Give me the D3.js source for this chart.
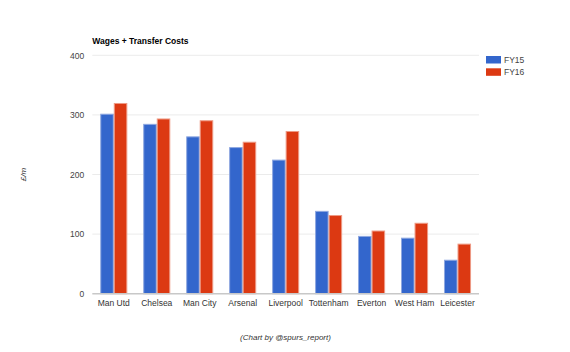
<!DOCTYPE html>
<html>
<head>
<meta charset="utf-8">
<script src="https://cdn.jsdelivr.net/npm/d3@7"></script>
<style>
  html, body { margin: 0; padding: 0; background: #fff; }
  svg { display: block; font-family: Arial, "Liberation Sans", sans-serif; }
</style>
</head>
<body>
<div id="chart"></div>
<script>
// Wages + Transfer Costs, FY15 vs FY16 (£m)
const clubs = ["Man Utd", "Chelsea", "Man City", "Arsenal", "Liverpool", "Tottenham", "Everton", "West Ham", "Leicester"];
const seriesNames = ["FY15", "FY16"];
const fy15 = [302, 285, 264, 246, 225, 139, 97, 94, 57];
const fy16 = [320, 294, 291, 255, 273, 132, 106, 119, 84];
const yTicks = [0, 100, 200, 300, 400];

const colors = { FY15: "#3366cc", FY16: "#dc3912" };
const edge = { FY15: "#8fa8e0", FY16: "#ee9a85" };

const W = 570, H = 352;
const m = { top: 55.3, right: 91, bottom: 58.3, left: 92.3 };
const innerW = W - m.left - m.right, innerH = H - m.top - m.bottom;

const svg = d3.select("#chart").append("svg").attr("width", W).attr("height", H);
const g = svg.append("g").attr("transform", `translate(${m.left},${m.top})`);

const x = d3.scaleBand().domain(clubs).range([0, innerW]).paddingInner(0.37).paddingOuter(0.185);
const x1 = d3.scaleBand().domain(seriesNames).range([0, x.bandwidth()]);
const y = d3.scaleLinear().domain([0, 400]).range([innerH, 0]);

// gridlines
g.append("g")
  .selectAll("line")
  .data(yTicks.filter(t => t > 0))
  .join("line")
  .attr("x1", 0).attr("x2", innerW)
  .attr("y1", d => y(d)).attr("y2", d => y(d))
  .attr("stroke", "#ebebeb").attr("stroke-width", 1);

// y axis labels
const yAxis = g.append("g").call(d3.axisLeft(y).tickValues(yTicks).tickSize(0).tickPadding(8));
yAxis.select(".domain").remove();
yAxis.selectAll("text").attr("fill", "#444").style("font-size", "8.5px");

// bars
const rows = clubs.map((c, i) => ({ club: c, FY15: fy15[i], FY16: fy16[i] }));
const groups = g.append("g").selectAll("g").data(rows).join("g")
  .attr("transform", d => `translate(${x(d.club)},0)`);

groups.selectAll("rect")
  .data(d => seriesNames.map(s => ({ s, v: d[s] })))
  .join("rect")
  .attr("x", d => x1(d.s) + 0.5)
  .attr("width", x1.bandwidth() - 1)
  .attr("y", d => y(d.v) + 0.5)
  .attr("height", d => innerH - y(d.v) - 0.5)
  .attr("fill", d => colors[d.s])
  .attr("stroke", d => edge[d.s])
  .attr("stroke-width", 1);

// baseline
g.append("line")
  .attr("x1", 0).attr("x2", innerW)
  .attr("y1", innerH).attr("y2", innerH)
  .attr("stroke", "#c8c8c8").attr("stroke-width", 1.5);

// x axis labels
const xAxis = g.append("g").attr("transform", `translate(0,${innerH})`)
  .call(d3.axisBottom(x).tickSize(0).tickPadding(6));
xAxis.select(".domain").remove();
xAxis.selectAll("text").attr("fill", "#333").style("font-size", "8.5px");

// title
svg.append("text")
  .attr("x", m.left).attr("y", 44)
  .style("font-size", "8.5px").style("font-weight", "bold").attr("fill", "#000")
  .text("Wages + Transfer Costs");

// y axis title
svg.append("text")
  .attr("transform", `translate(26,${m.top + innerH / 2}) rotate(-90)`)
  .attr("text-anchor", "middle")
  .style("font-size", "8px").style("font-style", "italic").attr("fill", "#333")
  .text("£/m");

// legend
const legend = svg.append("g").attr("transform", "translate(486,56)");
seriesNames.forEach((s, i) => {
  legend.append("rect")
    .attr("x", 0).attr("y", i * 12.3)
    .attr("width", 15).attr("height", 7.5)
    .attr("fill", colors[s]);
  legend.append("text")
    .attr("x", 18).attr("y", i * 12.3 + 7)
    .style("font-size", "8.5px").attr("fill", "#444")
    .text(s);
});

// footer
svg.append("text")
  .attr("x", 285.5).attr("y", 340)
  .attr("text-anchor", "middle")
  .style("font-size", "8px").style("font-style", "italic").attr("fill", "#333")
  .text("(Chart by @spurs_report)");
</script>
</body>
</html>
